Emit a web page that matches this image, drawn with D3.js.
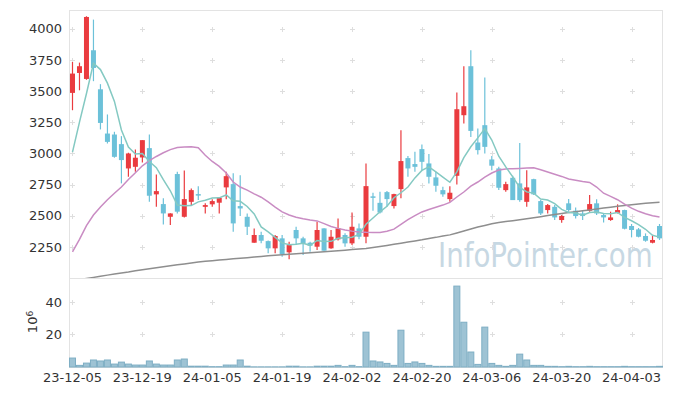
<!DOCTYPE html>
<html><head><meta charset="utf-8">
<script src="https://cdn.jsdelivr.net/npm/d3@7"></script>
<style>body{margin:0;background:#fff}svg{display:block}</style>
</head><body><svg id="c" width="673" height="396"></svg>
<script>
const dates=["2023-12-05","2023-12-06","2023-12-07","2023-12-08","2023-12-11","2023-12-12","2023-12-13","2023-12-14","2023-12-15","2023-12-18","2023-12-19","2023-12-20","2023-12-21","2023-12-22","2023-12-26","2023-12-27","2023-12-28",
"2024-01-02","2024-01-03","2024-01-04","2024-01-05","2024-01-08","2024-01-09","2024-01-10","2024-01-11","2024-01-12","2024-01-15","2024-01-16","2024-01-17","2024-01-18","2024-01-19","2024-01-22","2024-01-23","2024-01-24","2024-01-25","2024-01-26","2024-01-29","2024-01-30","2024-01-31",
"2024-02-01","2024-02-02","2024-02-05","2024-02-06","2024-02-07","2024-02-08","2024-02-13","2024-02-14","2024-02-15","2024-02-16","2024-02-19","2024-02-20","2024-02-21","2024-02-22","2024-02-23","2024-02-26","2024-02-27","2024-02-28","2024-02-29",
"2024-03-04","2024-03-05","2024-03-06","2024-03-07","2024-03-08","2024-03-11","2024-03-12","2024-03-13","2024-03-14","2024-03-15","2024-03-18","2024-03-19","2024-03-20","2024-03-21","2024-03-22","2024-03-25","2024-03-26","2024-03-27","2024-03-28","2024-03-29",
"2024-04-01","2024-04-02","2024-04-03","2024-04-04","2024-04-05","2024-04-08","2024-04-09"];
const openP=[3485,3645,3597,3827,3514,3159,3151,3074,2879,2892,2967,3042,2671,2593,2491,2834,2491,2611,2673,2571,2591,2604,2727,2753,2577,2491,2283,2345,2296,2238,2318,2206,2385,2318,2283,2251,2398,2238,2310,2345,2278,2398,2331,2655,2603,2689,2577,2713,2962,2914,3034,2919,2807,2705,2633,2820,3306,3699,3087,3226,2951,2879,2705,2804,2759,2611,2793,2617,2545,2571,2465,2599,2540,2518,2540,2599,2505,2465,2523,2545,2417,2390,2337,2283,2417];
const highP=[3733,3728,4100,4073,3555,3312,3173,3138,3004,3031,3106,3151,2831,2639,2520,2852,2863,2719,2737,2599,2631,2648,2852,2840,2825,2518,2398,2371,2300,2345,2345,2291,2411,2331,2291,2451,2400,2385,2478,2358,2526,2438,2919,2684,2692,2697,2676,3186,2978,3012,3071,2994,2852,2732,2737,3488,3699,3827,3199,3608,2978,2892,2772,2820,3084,2865,2796,2625,2593,2585,2505,2633,2566,2545,2665,2631,2518,2532,2591,2548,2433,2401,2358,2337,2433];
const lowP=[3346,3506,3590,3579,3192,3079,2965,2759,2812,2852,2927,2611,2571,2430,2425,2518,2486,2585,2625,2518,2571,2518,2631,2371,2497,2345,2283,2278,2198,2198,2171,2150,2264,2184,2211,2224,2219,2235,2300,2251,2264,2310,2278,2539,2518,2571,2558,2639,2812,2852,2860,2759,2692,2652,2611,2751,3240,3132,2991,2999,2865,2705,2692,2625,2611,2571,2665,2505,2518,2465,2443,2532,2478,2465,2532,2505,2446,2459,2518,2390,2326,2326,2291,2278,2305];
const closeP=[3640,3699,4094,3685,3244,3092,2972,2946,2999,2965,3106,2660,2697,2518,2518,2532,2633,2705,2665,2585,2617,2644,2817,2438,2558,2411,2345,2299,2238,2337,2192,2264,2318,2278,2259,2385,2219,2331,2398,2278,2411,2331,2737,2650,2526,2633,2673,2938,2879,2892,2932,2812,2740,2671,2684,3354,3378,3180,3026,3052,2901,2724,2753,2625,2625,2727,2671,2518,2585,2486,2497,2545,2497,2497,2593,2518,2486,2486,2545,2395,2385,2331,2299,2305,2318];
const volume=[5.5,1.0,2.4,4.3,3.7,4.3,1.8,3.0,1.8,1.2,1.2,3.7,1.8,1.2,1.2,4.3,4.9,0.5,0.5,0.5,0.2,0.2,1.2,1.2,4.3,0.5,0.1,0.1,0.1,0.1,0.1,0.5,0.5,0.1,0.1,0.5,0.5,0.5,1.0,0.2,1.0,0.2,21.4,3.7,3.1,2.2,1.0,22.6,2.2,3.1,2.2,1.0,0.4,0.4,0.4,49.7,27.5,9.2,1.6,24.5,2.2,1.0,0.4,1.0,7.9,4.3,1.0,1.0,0.4,0.4,0.2,0.4,0.2,0.2,0.4,0.2,0.2,0.2,0.2,0.4,0.2,0.2,0.2,0.2,0.4];
const ma5=[3010,3250,3480,3723,3672,3563,3417,3188,3051,2995,2998,2935,2885,2789,2700,2585,2580,2581,2611,2624,2641,2643,2666,2620,2615,2574,2514,2410,2370,2326,2282,2266,2270,2278,2262,2301,2292,2294,2318,2322,2327,2350,2431,2481,2531,2575,2644,2684,2730,2803,2863,2891,2851,2809,2768,2852,2965,3053,3124,3198,3107,2977,2891,2811,2726,2691,2680,2633,2625,2597,2551,2526,2522,2504,2526,2530,2518,2516,2526,2486,2459,2428,2391,2343,2328];
const ma20=[2210,2310,2420,2505,2570,2628,2680,2730,2790,2845,2900,2942,2975,3005,3030,3046,3050,3052,3045,2985,2935,2895,2842,2770,2730,2705,2675,2648,2610,2568,2530,2505,2488,2475,2465,2458,2436,2413,2398,2385,2376,2370,2367,2366,2366,2375,2392,2430,2468,2500,2530,2550,2568,2585,2606,2650,2690,2737,2770,2810,2842,2866,2875,2877,2879,2882,2884,2868,2850,2832,2815,2795,2785,2775,2767,2730,2680,2655,2628,2592,2560,2535,2515,2500,2490];
const ma60=[1980,1988,1996,2005,2014,2023,2032,2040,2048,2058,2067,2075,2083,2091,2098,2106,2113,2120,2128,2135,2139,2144,2149,2154,2159,2163,2168,2173,2178,2183,2186,2190,2194,2198,2202,2206,2211,2215,2219,2223,2228,2232,2236,2244,2252,2261,2270,2279,2288,2297,2306,2317,2326,2337,2346,2361,2377,2393,2409,2422,2436,2445,2453,2460,2467,2475,2483,2492,2501,2510,2518,2525,2532,2539,2546,2554,2561,2568,2575,2582,2588,2594,2599,2604,2608];
const priceTicks=[2250,2500,2750,3000,3250,3500,3750,4000];
const volTicks=[20,40];
const dateTicks=["2023-12-05","2023-12-19","2024-01-05","2024-01-19","2024-02-02","2024-02-20","2024-03-06","2024-03-20","2024-04-03"];

const svg=d3.select("#c");
const L=69,R=663,T=10,M=278,B=367;
const x=d3.scaleBand().domain(dates).range([L,R]).padding(0);
const cx=d=>x(d)+x.bandwidth()/2;
const yP=d3.scaleLinear().domain([2000,4150]).range([M,T]);
const yV=d3.scaleLinear().domain([0,d3.max(volume)*1.1]).range([B,M]);
const FONT="DejaVu Sans, Verdana, sans-serif";
const UP="#ea3b3f", DN="#6cc1d9";

const defs=svg.append("defs");
defs.append("clipPath").attr("id","mainClip").append("rect").attr("x",L).attr("y",T).attr("width",R-L).attr("height",M-T);

// frame
const frame=svg.append("g").attr("stroke","#e3e3e3").attr("fill","none");
frame.append("rect").attr("x",L+0.5).attr("y",T+0.5).attr("width",R-L-1).attr("height",B-T);
frame.append("line").attr("x1",L).attr("x2",R).attr("y1",M+0.5).attr("y2",M+0.5);

// grid crosses
const gridG=svg.append("g").attr("stroke","#dedede").attr("stroke-width",1);
function cross(px,py){
  gridG.append("line").attr("x1",px-2.5).attr("x2",px+2.5).attr("y1",py).attr("y2",py);
  gridG.append("line").attr("x1",px).attr("x2",px).attr("y1",py-2.5).attr("y2",py+2.5);
}
dateTicks.forEach(d=>{
  const px=Math.round(cx(d))+0.5;
  priceTicks.forEach(v=>cross(px,Math.round(yP(v))+0.5));
  volTicks.forEach(v=>cross(px,Math.round(yV(v))+0.5));
});

// watermark (horizontally condensed via transform)
svg.append("text").attr("transform","translate(438,267) scale(0.838,1)")
  .attr("font-family",FONT).attr("font-size",33).attr("fill","#c7d8e3").text("InfoPointer.com");

// volume bars
svg.append("g").selectAll("rect").data(dates).join("rect")
  .attr("x",(d)=>cx(d)-3).attr("width",6)
  .attr("y",(d,i)=>yV(volume[i])).attr("height",(d,i)=>B-yV(volume[i]))
  .attr("fill","#9ec3d4").attr("stroke","#7eaec4").attr("stroke-width",1);

// candles
const cg=svg.append("g").attr("clip-path","url(#mainClip)");
const cand=cg.selectAll("g").data(dates).join("g");
cand.append("line")
  .attr("x1",d=>cx(d)).attr("x2",d=>cx(d))
  .attr("y1",(d,i)=>yP(highP[i])).attr("y2",(d,i)=>yP(lowP[i]))
  .attr("stroke",(d,i)=>closeP[i]>=openP[i]?UP:DN).attr("stroke-width",1.2);
cand.append("rect")
  .attr("x",d=>cx(d)-2.5).attr("width",5)
  .attr("y",(d,i)=>yP(Math.max(openP[i],closeP[i])))
  .attr("height",(d,i)=>Math.max(1.5,Math.abs(yP(openP[i])-yP(closeP[i]))))
  .attr("fill",(d,i)=>closeP[i]>=openP[i]?UP:DN);

// moving averages
const lineGen=arr=>d3.line().x((d,i)=>cx(dates[i])).y(d=>yP(d))(arr);
const lg=svg.append("g").attr("clip-path","url(#mainClip)").attr("fill","none").attr("stroke-width",1.5);
lg.append("path").attr("d",lineGen(ma60)).attr("stroke","#8e8e8e");
lg.append("path").attr("d",lineGen(ma20)).attr("stroke","#c98cc3");
lg.append("path").attr("d",lineGen(ma5)).attr("stroke","#84c9c2");

// y axis labels
svg.append("g").selectAll("text").data(priceTicks).join("text")
  .attr("x",62).attr("y",d=>yP(d)).attr("dy","0.36em").attr("text-anchor","end")
  .attr("font-family",FONT).attr("font-size",13).attr("fill","#333").text(d=>d);
svg.append("g").selectAll("text").data(volTicks).join("text")
  .attr("x",62).attr("y",d=>yV(d)).attr("dy","0.36em").attr("text-anchor","end")
  .attr("font-family",FONT).attr("font-size",13).attr("fill","#333").text(d=>d);
const unit=svg.append("text").attr("transform","translate(37,322) rotate(-90)").attr("text-anchor","middle")
  .attr("font-family",FONT).attr("font-size",13).attr("fill","#333");
unit.append("tspan").text("10");
unit.append("tspan").attr("dy","-0.45em").attr("font-size",9).text("6");

// x axis labels
svg.append("g").selectAll("text").data(dateTicks).join("text")
  .attr("x",d=>cx(d)).attr("y",382).attr("text-anchor","middle")
  .attr("font-family",FONT).attr("font-size",13).attr("fill","#333").text(d=>d.slice(2));
</script></body></html>
